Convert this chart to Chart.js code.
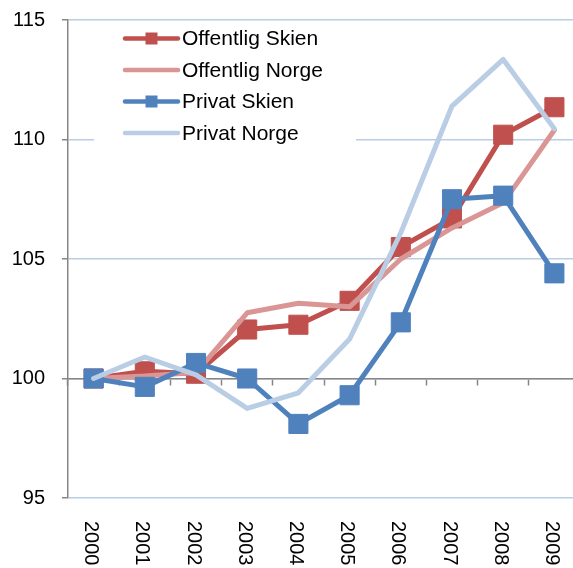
<!DOCTYPE html>
<html>
<head>
<meta charset="utf-8">
<script src="https://cdn.jsdelivr.net/npm/chart.js@4/dist/chart.umd.min.js"></script>
<style>
html,body{margin:0;padding:0;overflow:hidden;background:#fff;}
canvas{display:block;}
</style>
</head>
<body>
<canvas id="c" width="582" height="568" style="width:582px;height:568px"></canvas>
<script>
const years = ['2000','2001','2002','2003','2004','2005','2006','2007','2008','2009'];
const offentligSkien = [100, 100.3, 100.2, 102.05, 102.25, 103.25, 105.5, 106.7, 110.2, 111.35];
const offentligNorge = [100, 100.1, 100.25, 102.75, 103.15, 103.0, 105.0, 106.3, 107.35, 110.4];
const privatSkien = [100, 99.65, 100.65, 100.0, 98.1, 99.3, 102.35, 107.5, 107.65, 104.4];
const privatNorge = [100, 100.9, 100.15, 98.75, 99.4, 101.65, 106.1, 111.4, 113.35, 110.45];
const seriesNames = ['Offentlig Skien', 'Offentlig Norge', 'Privat Skien', 'Privat Norge'];
const yTicks = [95, 100, 105, 110, 115];

const colors = ['#C0504D', '#D99694', '#4F81BD', '#B9CDE5'];
const hasMarker = [true, false, true, false];
const FONT = '"Liberation Sans", Arial, sans-serif';

function ds(i, data) {
  return {
    label: seriesNames[i],
    data: data,
    borderColor: colors[i],
    backgroundColor: colors[i],
    borderWidth: 5,
    borderJoinStyle: 'round',
    borderCapStyle: 'round',
    tension: 0,
    pointStyle: 'rect',
    pointRadius: hasMarker[i] ? 13.5 : 0,
    pointHoverRadius: hasMarker[i] ? 13.5 : 0,
    pointBorderWidth: 1,
    pointBorderColor: colors[i],
    pointBackgroundColor: colors[i],
    order: 4 - i
  };
}

const legendPlugin = {
  id: 'boxLegend',
  beforeDatasetsDraw(chart) {
    const ctx = chart.ctx;
    ctx.save();
    ctx.fillStyle = '#ffffff';
    ctx.fillRect(94, 23, 262, 128);
    const rows = [38.5, 70, 101.5, 133];
    for (let i = 0; i < 4; i++) {
      const y = rows[i];
      ctx.strokeStyle = colors[i];
      ctx.lineWidth = 4.5;
      ctx.lineCap = 'round';
      ctx.beginPath();
      ctx.moveTo(125, y);
      ctx.lineTo(178, y);
      ctx.stroke();
      if (hasMarker[i]) {
        ctx.fillStyle = colors[i];
        ctx.fillRect(151.5 - 6, y - 6, 12, 12);
      }
      ctx.fillStyle = '#000000';
      ctx.font = '21px ' + FONT;
      ctx.textAlign = 'left';
      ctx.textBaseline = 'middle';
      ctx.fillText(seriesNames[i], 182, y + 1);
    }
    ctx.restore();
  },
  afterDraw(chart) {
    const ctx = chart.ctx;
    const xs = chart.scales.x;
    ctx.save();
    ctx.fillStyle = '#000000';
    ctx.font = '20px ' + FONT;
    ctx.textAlign = 'left';
    ctx.textBaseline = 'alphabetic';
    years.forEach((lab, i) => {
      const x = xs.getPixelForValue(i);
      ctx.save();
      ctx.translate(x, 521);
      ctx.rotate(Math.PI / 2);
      ctx.fillText(lab, 0, 8.5);
      ctx.restore();
    });
    ctx.restore();
  }
};

new Chart(document.getElementById('c'), {
  type: 'line',
  data: {
    labels: years,
    datasets: [
      ds(0, offentligSkien),
      ds(1, offentligNorge),
      ds(2, privatSkien),
      ds(3, privatNorge)
    ]
  },
  options: {
    responsive: false,
    maintainAspectRatio: false,
    devicePixelRatio: 1,
    animation: false,
    events: [],
    layout: { autoPadding: false, padding: { top: 20, right: 2, bottom: 70, left: 0 } },
    plugins: {
      legend: { display: false },
      tooltip: { enabled: false }
    },
    scales: {
      x: {
        type: 'category',
        offset: true,
        position: { y: 100 },
        afterFit(s) { s.paddingLeft = 0; s.paddingRight = 0; s.paddingTop = 0; s.paddingBottom = 0; },
        ticks: { display: false },
        grid: {
          display: true,
          offset: true,
          drawOnChartArea: false,
          drawTicks: true,
          tickLength: 6,
          tickColor: '#868686',
          tickWidth: 1.5
        },
        border: { display: true, color: '#868686', width: 1.5 }
      },
      y: {
        min: 95,
        max: 115,
        afterFit(s) { s.width = 68; s.paddingTop = 0; s.paddingBottom = 0; s.paddingLeft = 0; s.paddingRight = 0; },
        afterBuildTicks(s) { s.ticks = yTicks.map(v => ({ value: v })); },
        ticks: {
          stepSize: 5,
          padding: 17,
          color: '#000000',
          font: { family: FONT, size: 20 }
        },
        grid: {
          color: '#B9CDE5',
          lineWidth: 1.5,
          drawTicks: true,
          tickLength: 6,
          tickColor: '#868686',
          tickWidth: 1.5
        },
        border: { display: true, color: '#868686', width: 1.5 }
      }
    }
  },
  plugins: [legendPlugin]
});
</script>
</body>
</html>
